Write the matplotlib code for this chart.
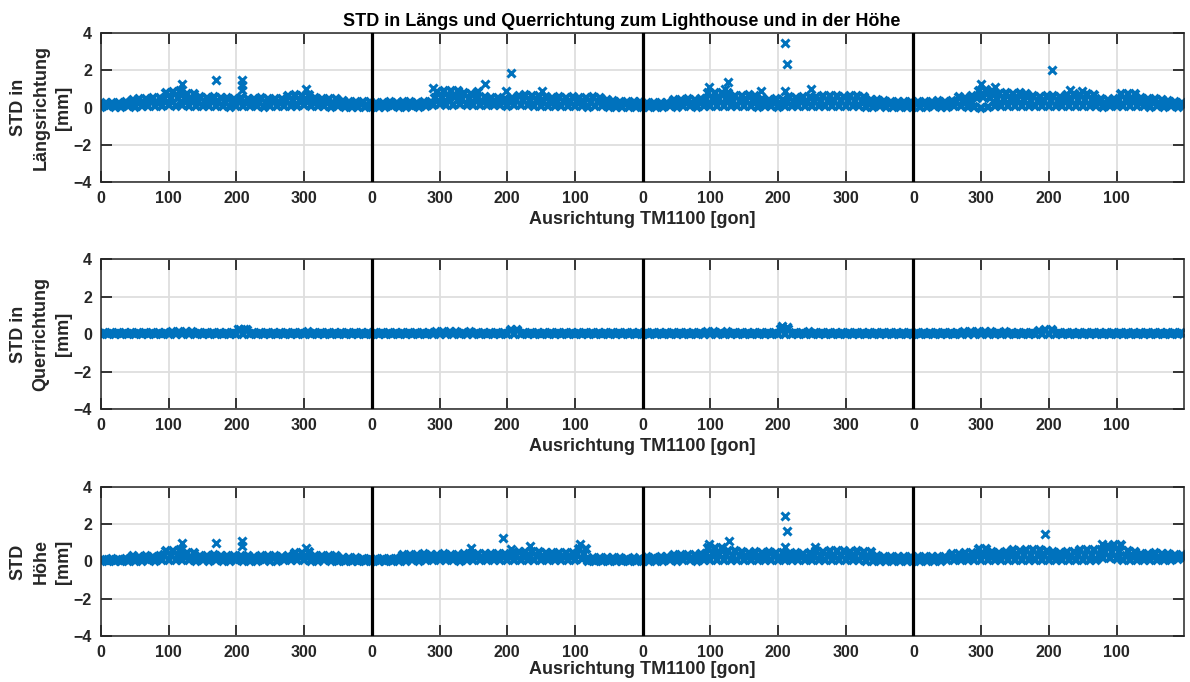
import numpy as np
import matplotlib
matplotlib.use("Agg")
import matplotlib.pyplot as plt

plt.rcParams["font.family"] = ["Liberation Sans", "DejaVu Sans"]
plt.rcParams["font.weight"] = "bold"

# Messstationen entlang der fortlaufenden Ausrichtung (4 Durchgaenge a 400 gon)
stationen = np.arange(0, 1600, 10)
tick_pos = np.arange(0, 1600, 100)
tick_labels = ["0", "100", "200", "300", "0", "300", "200", "100",
               "0", "100", "200", "300", "0", "300", "200", "100"]
segment_grenzen = [400, 800, 1200]

# ---------------- STD in Laengsrichtung [mm] ----------------
laengs_oben = [
    0.24, 0.26, 0.22, 0.28, 0.42, 0.48, 0.45, 0.50, 0.52, 0.80, 0.85, 0.88, 0.75, 0.70, 0.55, 0.50, 0.56, 0.52, 0.50, 0.46,
    0.50, 0.48, 0.45, 0.50, 0.44, 0.48, 0.46, 0.60, 0.66, 0.62, 0.68, 0.50, 0.46, 0.48, 0.44, 0.36, 0.32, 0.30, 0.30, 0.28,
    0.26, 0.24, 0.28, 0.25, 0.30, 0.27, 0.24, 0.30, 0.32, 0.85, 0.90, 0.86, 0.88, 0.80, 0.75, 0.82, 0.55, 0.50, 0.52, 0.48,
    0.50, 0.62, 0.66, 0.60, 0.64, 0.55, 0.52, 0.56, 0.50, 0.55, 0.52, 0.50, 0.54, 0.50, 0.38, 0.34, 0.32, 0.30, 0.32, 0.28,
    0.24, 0.26, 0.22, 0.25, 0.40, 0.43, 0.45, 0.42, 0.46, 0.78, 0.80, 0.76, 0.78, 0.64, 0.62, 0.66, 0.60, 0.45, 0.42, 0.44,
    0.40, 0.55, 0.52, 0.56, 0.55, 0.58, 0.60, 0.62, 0.60, 0.58, 0.62, 0.60, 0.56, 0.42, 0.38, 0.34, 0.32, 0.30, 0.28, 0.30,
    0.30, 0.32, 0.30, 0.34, 0.32, 0.36, 0.55, 0.52, 0.60, 0.90, 0.95, 0.88, 0.75, 0.78, 0.72, 0.76, 0.70, 0.60, 0.58, 0.62,
    0.60, 0.58, 0.68, 0.70, 0.66, 0.70, 0.66, 0.45, 0.42, 0.44, 0.72, 0.74, 0.70, 0.50, 0.48, 0.46, 0.42, 0.36, 0.30, 0.26,
]
laengs_mitte = [
    0.14, 0.16, 0.12, 0.15, 0.24, 0.28, 0.26, 0.30, 0.30, 0.46, 0.50, 0.52, 0.44, 0.40, 0.32, 0.30, 0.33, 0.30, 0.28, 0.27,
    0.29, 0.28, 0.26, 0.30, 0.25, 0.28, 0.27, 0.36, 0.40, 0.37, 0.40, 0.30, 0.27, 0.28, 0.26, 0.22, 0.19, 0.18, 0.18, 0.16,
    0.15, 0.14, 0.17, 0.15, 0.18, 0.16, 0.14, 0.18, 0.20, 0.52, 0.55, 0.50, 0.54, 0.48, 0.45, 0.50, 0.34, 0.31, 0.32, 0.30,
    0.31, 0.38, 0.40, 0.36, 0.39, 0.32, 0.30, 0.33, 0.29, 0.32, 0.30, 0.29, 0.32, 0.29, 0.22, 0.20, 0.19, 0.18, 0.19, 0.16,
    0.14, 0.15, 0.13, 0.15, 0.23, 0.25, 0.26, 0.24, 0.27, 0.45, 0.47, 0.44, 0.46, 0.37, 0.36, 0.38, 0.35, 0.26, 0.24, 0.26,
    0.23, 0.32, 0.30, 0.33, 0.32, 0.34, 0.35, 0.36, 0.35, 0.34, 0.36, 0.35, 0.33, 0.24, 0.22, 0.20, 0.19, 0.18, 0.16, 0.18,
    0.18, 0.19, 0.18, 0.20, 0.19, 0.21, 0.32, 0.30, 0.35, 0.52, 0.55, 0.50, 0.44, 0.46, 0.42, 0.45, 0.41, 0.35, 0.34, 0.36,
    0.35, 0.34, 0.40, 0.41, 0.38, 0.41, 0.38, 0.26, 0.24, 0.26, 0.42, 0.43, 0.41, 0.29, 0.28, 0.27, 0.24, 0.21, 0.18, 0.15,
]
laengs_unten = [
    0.04, 0.06, 0.03, 0.05, 0.07, 0.05, 0.08, 0.06, 0.09, 0.10, 0.12, 0.09, 0.11, 0.08, 0.07, 0.09, 0.06, 0.08, 0.07, 0.05,
    0.08, 0.06, 0.09, 0.07, 0.05, 0.08, 0.06, 0.09, 0.10, 0.08, 0.11, 0.07, 0.06, 0.08, 0.05, 0.06, 0.04, 0.05, 0.03, 0.04,
    0.03, 0.05, 0.04, 0.06, 0.05, 0.04, 0.06, 0.05, 0.07, 0.15, 0.18, 0.16, 0.14, 0.17, 0.15, 0.13, 0.12, 0.14, 0.11, 0.13,
    0.10, 0.12, 0.14, 0.11, 0.09, 0.08, 0.10, 0.07, 0.09, 0.06, 0.08, 0.07, 0.05, 0.08, 0.06, 0.04, 0.05, 0.03, 0.04, 0.02,
    0.04, 0.03, 0.05, 0.04, 0.06, 0.05, 0.07, 0.06, 0.05, 0.08, 0.10, 0.07, 0.09, 0.08, 0.06, 0.09, 0.07, 0.05, 0.08, 0.06,
    0.05, 0.07, 0.09, 0.06, 0.08, 0.07, 0.10, 0.08, 0.09, 0.07, 0.08, 0.06, 0.07, 0.05, 0.04, 0.06, 0.03, 0.05, 0.04, 0.03,
    0.04, 0.05, 0.03, 0.06, 0.04, 0.05, 0.07, 0.06, 0.05, 0.02, 0.00, 0.03, 0.06, 0.08, 0.07, 0.09, 0.06, 0.08, 0.07, 0.09,
    0.06, 0.08, 0.10, 0.07, 0.09, 0.08, 0.06, 0.07, 0.05, 0.08, 0.10, 0.09, 0.07, 0.06, 0.08, 0.05, 0.07, 0.04, 0.06, 0.05,
]
laengs_ausreisser_pos = [119, 170, 208, 208, 208, 303, 490, 567, 598, 606, 651,
                         898, 921, 926, 975, 1010, 1013, 1010, 1048, 1300, 1321, 1404, 1431, 1449]
laengs_ausreisser_wert = [1.27, 1.49, 1.49, 1.22, 0.95, 1.00, 1.05, 1.24, 0.90, 1.85, 0.90,
                          1.09, 1.00, 1.36, 0.90, 3.45, 2.33, 0.90, 1.00, 1.24, 1.09, 2.00, 0.95, 0.91]

# ---------------- STD in Querrichtung [mm] ----------------
quer_oben = [
    0.07, 0.08, 0.07, 0.08, 0.08, 0.07, 0.08, 0.08, 0.09, 0.09, 0.10, 0.10, 0.11, 0.10, 0.09, 0.09, 0.08, 0.09, 0.08, 0.09,
    0.24, 0.25, 0.09, 0.08, 0.09, 0.08, 0.09, 0.08, 0.09, 0.09, 0.10, 0.09, 0.09, 0.08, 0.08, 0.07, 0.08, 0.07, 0.07, 0.07,
    0.07, 0.07, 0.08, 0.07, 0.08, 0.08, 0.09, 0.08, 0.09, 0.10, 0.10, 0.11, 0.10, 0.09, 0.10, 0.09, 0.09, 0.08, 0.09, 0.08,
    0.22, 0.21, 0.09, 0.08, 0.09, 0.08, 0.08, 0.09, 0.08, 0.08, 0.08, 0.09, 0.08, 0.07, 0.08, 0.07, 0.07, 0.08, 0.07, 0.07,
    0.07, 0.07, 0.08, 0.07, 0.08, 0.08, 0.08, 0.09, 0.09, 0.10, 0.10, 0.09, 0.10, 0.09, 0.09, 0.08, 0.09, 0.08, 0.08, 0.09,
    0.30, 0.28, 0.09, 0.08, 0.10, 0.09, 0.09, 0.08, 0.09, 0.09, 0.09, 0.08, 0.08, 0.08, 0.07, 0.08, 0.07, 0.07, 0.07, 0.07,
    0.07, 0.08, 0.07, 0.08, 0.08, 0.09, 0.09, 0.10, 0.10, 0.11, 0.10, 0.10, 0.09, 0.10, 0.09, 0.09, 0.08, 0.09, 0.20, 0.25,
    0.24, 0.09, 0.08, 0.09, 0.08, 0.09, 0.08, 0.09, 0.08, 0.09, 0.08, 0.08, 0.09, 0.08, 0.08, 0.07, 0.08, 0.07, 0.07, 0.07,
]
quer_unten = [
    0.01, 0.00, 0.02, 0.01, 0.00, 0.01, 0.02, 0.01, 0.00, 0.02, 0.01, 0.02, 0.03, 0.01, 0.02, 0.00, 0.01, 0.02, 0.01, 0.00,
    0.02, 0.03, 0.01, 0.00, 0.02, 0.01, 0.00, 0.01, 0.02, 0.01, 0.02, 0.01, 0.00, 0.01, 0.02, 0.00, 0.01, 0.00, 0.01, 0.00,
    0.00, 0.01, 0.02, 0.00, 0.01, 0.02, 0.01, 0.00, 0.02, 0.01, 0.02, 0.03, 0.01, 0.02, 0.01, 0.00, 0.02, 0.01, 0.00, 0.01,
    0.02, 0.03, 0.01, 0.00, 0.01, 0.02, 0.00, 0.01, 0.02, 0.01, 0.00, 0.01, 0.02, 0.00, 0.01, 0.00, 0.01, 0.02, 0.00, 0.01,
    0.01, 0.00, 0.02, 0.01, 0.02, 0.00, 0.01, 0.02, 0.01, 0.02, 0.03, 0.01, 0.02, 0.01, 0.00, 0.02, 0.01, 0.00, 0.01, 0.02,
    0.03, 0.02, 0.01, 0.00, 0.02, 0.01, 0.00, 0.01, 0.02, 0.01, 0.00, 0.02, 0.01, 0.00, 0.01, 0.02, 0.00, 0.01, 0.00, 0.01,
    0.00, 0.01, 0.02, 0.00, 0.01, 0.02, 0.01, 0.02, 0.03, 0.01, 0.02, 0.01, 0.00, 0.02, 0.01, 0.00, 0.01, 0.02, 0.03, 0.02,
    0.01, 0.00, 0.02, 0.01, 0.00, 0.01, 0.02, 0.00, 0.01, 0.02, 0.00, 0.01, 0.02, 0.01, 0.00, 0.01, 0.00, 0.02, 0.01, 0.00,
]
quer_ausreisser_pos = [203, 211, 1006, 1013]
quer_ausreisser_wert = [0.30, 0.28, 0.42, 0.38]

# ---------------- STD Hoehe [mm] ----------------
hoehe_oben = [
    0.10, 0.12, 0.09, 0.14, 0.27, 0.25, 0.28, 0.26, 0.30, 0.55, 0.58, 0.60, 0.45, 0.44, 0.30, 0.28, 0.32, 0.30, 0.29, 0.31,
    0.27, 0.30, 0.26, 0.28, 0.27, 0.29, 0.26, 0.28, 0.45, 0.44, 0.48, 0.30, 0.28, 0.31, 0.29, 0.18, 0.16, 0.17, 0.15, 0.14,
    0.14, 0.12, 0.15, 0.14, 0.35, 0.36, 0.34, 0.38, 0.36, 0.35, 0.37, 0.34, 0.36, 0.38, 0.42, 0.40, 0.38, 0.41, 0.40, 0.42,
    0.39, 0.50, 0.52, 0.48, 0.51, 0.45, 0.44, 0.46, 0.45, 0.47, 0.64, 0.66, 0.18, 0.17, 0.16, 0.18, 0.17, 0.15, 0.16, 0.14,
    0.21, 0.20, 0.22, 0.21, 0.35, 0.34, 0.36, 0.35, 0.37, 0.72, 0.74, 0.70, 0.57, 0.55, 0.48, 0.47, 0.49, 0.46, 0.48, 0.47,
    0.45, 0.42, 0.44, 0.41, 0.43, 0.53, 0.52, 0.54, 0.53, 0.55, 0.52, 0.54, 0.52, 0.50, 0.28, 0.25, 0.24, 0.22, 0.23, 0.21,
    0.24, 0.23, 0.25, 0.24, 0.26, 0.42, 0.40, 0.43, 0.44, 0.66, 0.64, 0.48, 0.47, 0.49, 0.60, 0.58, 0.61, 0.59, 0.60, 0.58,
    0.48, 0.47, 0.49, 0.48, 0.60, 0.59, 0.61, 0.62, 0.85, 0.89, 0.86, 0.53, 0.52, 0.42, 0.41, 0.43, 0.40, 0.38, 0.36, 0.35,
]
hoehe_mitte = [
    0.05, 0.07, 0.05, 0.08, 0.15, 0.14, 0.16, 0.15, 0.17, 0.32, 0.34, 0.35, 0.26, 0.25, 0.17, 0.16, 0.18, 0.17, 0.16, 0.18,
    0.15, 0.17, 0.14, 0.16, 0.15, 0.17, 0.14, 0.16, 0.26, 0.25, 0.28, 0.17, 0.16, 0.18, 0.16, 0.10, 0.09, 0.10, 0.08, 0.08,
    0.08, 0.07, 0.09, 0.08, 0.20, 0.21, 0.19, 0.22, 0.21, 0.20, 0.22, 0.19, 0.21, 0.22, 0.24, 0.23, 0.22, 0.24, 0.23, 0.25,
    0.22, 0.29, 0.30, 0.28, 0.30, 0.26, 0.25, 0.27, 0.26, 0.27, 0.37, 0.38, 0.10, 0.10, 0.09, 0.10, 0.10, 0.08, 0.09, 0.08,
    0.12, 0.11, 0.13, 0.12, 0.20, 0.19, 0.21, 0.20, 0.21, 0.41, 0.43, 0.40, 0.32, 0.31, 0.27, 0.27, 0.28, 0.26, 0.27, 0.27,
    0.26, 0.24, 0.25, 0.23, 0.24, 0.30, 0.30, 0.31, 0.30, 0.32, 0.30, 0.31, 0.30, 0.29, 0.16, 0.14, 0.14, 0.13, 0.13, 0.12,
    0.14, 0.13, 0.14, 0.14, 0.15, 0.24, 0.23, 0.25, 0.25, 0.38, 0.37, 0.27, 0.27, 0.28, 0.34, 0.33, 0.35, 0.34, 0.34, 0.33,
    0.27, 0.27, 0.28, 0.27, 0.34, 0.34, 0.35, 0.36, 0.49, 0.51, 0.49, 0.30, 0.30, 0.24, 0.23, 0.25, 0.24, 0.23, 0.22, 0.22,
]
hoehe_unten = [
    0.00, 0.02, 0.01, 0.03, 0.02, 0.04, 0.03, 0.05, 0.04, 0.06, 0.08, 0.05, 0.07, 0.05, 0.04, 0.06, 0.03, 0.05, 0.04, 0.02,
    0.05, 0.03, 0.04, 0.02, 0.05, 0.03, 0.04, 0.06, 0.07, 0.05, 0.06, 0.04, 0.03, 0.05, 0.02, 0.03, 0.01, 0.02, 0.00, 0.01,
    0.01, 0.02, 0.00, 0.02, 0.04, 0.03, 0.05, 0.04, 0.06, 0.05, 0.07, 0.05, 0.06, 0.04, 0.06, 0.05, 0.07, 0.06, 0.05, 0.07,
    0.06, 0.08, 0.07, 0.09, 0.06, 0.07, 0.05, 0.06, 0.08, 0.07, 0.10, 0.12, 0.04, 0.03, 0.02, 0.03, 0.01, 0.02, 0.01, 0.00,
    0.03, 0.02, 0.04, 0.03, 0.05, 0.04, 0.06, 0.05, 0.04, 0.07, 0.09, 0.06, 0.08, 0.07, 0.05, 0.07, 0.06, 0.08, 0.06, 0.05,
    0.07, 0.06, 0.05, 0.07, 0.06, 0.08, 0.07, 0.09, 0.07, 0.08, 0.06, 0.07, 0.05, 0.04, 0.03, 0.04, 0.02, 0.03, 0.02, 0.01,
    0.03, 0.04, 0.02, 0.04, 0.03, 0.05, 0.06, 0.05, 0.07, 0.08, 0.06, 0.07, 0.05, 0.06, 0.08, 0.07, 0.09, 0.07, 0.08, 0.06,
    0.07, 0.05, 0.06, 0.08, 0.07, 0.09, 0.08, 0.10, 0.16, 0.18, 0.14, 0.06, 0.05, 0.07, 0.06, 0.08, 0.07, 0.09, 0.10, 0.11,
]
hoehe_ausreisser_pos = [119, 170, 208, 208, 303, 547, 594, 605, 633, 708,
                        898, 927, 1010, 1013, 1010, 1055, 1395, 1479]
hoehe_ausreisser_wert = [0.99, 0.99, 1.10, 0.80, 0.73, 0.73, 1.27, 0.67, 0.80, 0.92,
                         0.93, 1.10, 2.43, 1.64, 0.79, 0.75, 1.45, 0.93]

reihen = [
    ("STD in\nLängsrichtung\n[mm]", [laengs_unten, laengs_mitte, laengs_oben],
     laengs_ausreisser_pos, laengs_ausreisser_wert),
    ("STD in\nQuerrichtung\n[mm]", [quer_unten, quer_oben],
     quer_ausreisser_pos, quer_ausreisser_wert),
    ("STD\nHöhe\n[mm]", [hoehe_unten, hoehe_mitte, hoehe_oben],
     hoehe_ausreisser_pos, hoehe_ausreisser_wert),
]

BLAU = "#0072BD"
TEXT = "#262626"
BAND = dict(linestyle="none", marker="x", markersize=6.2,
            markeredgewidth=2.9, color=BLAU, zorder=2)
EINZEL = dict(linestyle="none", marker="x", markersize=5.6,
              markeredgewidth=2.2, color=BLAU, zorder=2)

fig = plt.figure(figsize=(11.9, 6.82), dpi=100)
links, breite = 0.0849, 0.9103
rahmen = [
    [links, 0.7331, breite, 0.2185],
    [links, 0.3998, breite, 0.2199],
    [links, 0.0674, breite, 0.2189],
]

for i, (ylabel, lagen, a_pos, a_wert) in enumerate(reihen):
    ax = fig.add_axes(rahmen[i])
    versatz = np.linspace(0, 10, len(lagen), endpoint=False)
    for lage, dx in zip(lagen, versatz):
        ax.plot(stationen + dx, lage, **BAND)
    ax.plot(a_pos, a_wert, **EINZEL)

    for g in segment_grenzen:
        ax.axvline(g, color="black", linewidth=2.3, zorder=3)

    ax.set_xlim(0, 1600)
    ax.set_ylim(-4, 4)
    ax.set_xticks(tick_pos)
    ax.set_xticklabels(tick_labels)
    ax.set_yticks([-4, -2, 0, 2, 4])
    ax.set_axisbelow(True)
    ax.grid(True, color="#dedede", linewidth=1.3)
    ax.tick_params(direction="in", length=8, width=1.3, top=True, right=True,
                   labelsize=11.5, pad=6.5, colors=TEXT)
    for lbl in ax.get_xticklabels() + ax.get_yticklabels():
        lbl.set_fontweight("bold")
    for sp in ax.spines.values():
        sp.set_color(TEXT)
        sp.set_linewidth(1.1)

    ax.set_ylabel(ylabel, fontsize=13, fontweight="bold", color=TEXT,
                  linespacing=1.45, labelpad=1)
    ax.set_xlabel("Ausrichtung TM1100 [gon]", fontsize=13, fontweight="bold",
                  color=TEXT, labelpad=(3.5 if i < 2 else 0.5))

fig.text(0.5223, 0.9623, "STD in Längs und Querrichtung zum Lighthouse und in der Höhe",
         ha="center", va="baseline", fontsize=13, fontweight="bold", color="black")

fig.savefig("out.png", dpi=100, facecolor="white")
